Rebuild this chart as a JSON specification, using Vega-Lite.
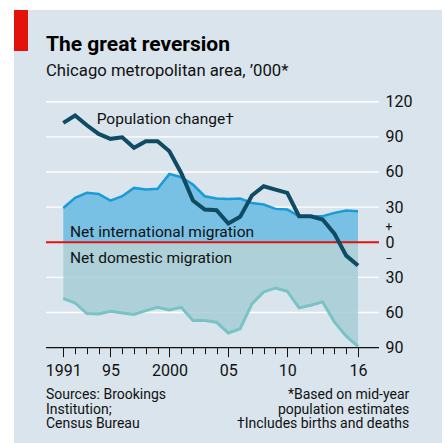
{
  "$schema": "https://vega.github.io/schema/vega-lite/v6.json",
  "width": 428,
  "height": 433,
  "autosize": {"type": "none"},
  "padding": {"left": 14, "top": 10, "right": 3, "bottom": 0},
  "background": "#ffffff",
  "config": {
    "view": {"fill": "#d9e4ec", "stroke": null},
    "font": "Roboto",
    "text": {"font": "Roboto", "color": "#111111"}
  },
  "title": {
    "text": "The great reversion",
    "subtitle": "Chicago metropolitan area, ’000*",
    "anchor": "start",
    "frame": "group",
    "offset": -70,
    "dx": 32,
    "font": "Roboto",
    "fontSize": 21,
    "fontWeight": "bold",
    "color": "#000000",
    "subtitleFont": "Roboto",
    "subtitleFontSize": 16.7,
    "subtitleColor": "#111111",
    "subtitlePadding": 8
  },
  "resolve": {"axis": {"x": "independent", "y": "independent"}},
  "datasets": {
    "series": [
      {"year": 1991, "pop": 101.9, "intl": 29.3, "dom": -48.0},
      {"year": 1992, "pop": 108.2, "intl": 37.9, "dom": -51.8},
      {"year": 1993, "pop": 99.9, "intl": 42.2, "dom": -60.9},
      {"year": 1994, "pop": 92.5, "intl": 41.3, "dom": -61.2},
      {"year": 1995, "pop": 88.3, "intl": 35.6, "dom": -58.9},
      {"year": 1996, "pop": 89.6, "intl": 39.3, "dom": -60.3},
      {"year": 1997, "pop": 80.6, "intl": 46.4, "dom": -61.7},
      {"year": 1998, "pop": 86.2, "intl": 45.0, "dom": -58.3},
      {"year": 1999, "pop": 86.2, "intl": 45.6, "dom": -55.5},
      {"year": 2000, "pop": 77.7, "intl": 58.4, "dom": -57.7},
      {"year": 2001, "pop": 59.2, "intl": 55.5, "dom": -55.5},
      {"year": 2002, "pop": 35.6, "intl": 49.3, "dom": -66.8},
      {"year": 2003, "pop": 27.9, "intl": 39.3, "dom": -66.8},
      {"year": 2004, "pop": 27.4, "intl": 37.3, "dom": -68.3},
      {"year": 2005, "pop": 16.0, "intl": 37.0, "dom": -77.4},
      {"year": 2006, "pop": 21.7, "intl": 37.3, "dom": -73.9},
      {"year": 2007, "pop": 39.9, "intl": 33.6, "dom": -52.6},
      {"year": 2008, "pop": 47.8, "intl": 32.2, "dom": -42.4},
      {"year": 2009, "pop": 45.0, "intl": 28.5, "dom": -39.0},
      {"year": 2010, "pop": 42.1, "intl": 27.9, "dom": -41.8},
      {"year": 2011, "pop": 22.2, "intl": 22.2, "dom": -56.0},
      {"year": 2012, "pop": 22.2, "intl": 22.2, "dom": -53.7},
      {"year": 2013, "pop": 19.4, "intl": 22.2, "dom": -50.9},
      {"year": 2014, "pop": 7.4, "intl": 25.1, "dom": -68.0},
      {"year": 2015, "pop": -11.4, "intl": 27.1, "dom": -80.2},
      {"year": 2016, "pop": -19.9, "intl": 26.5, "dom": -88.8}
    ],
    "grid": [{"v": 120}, {"v": 90}, {"v": 60}, {"v": 30}, {"v": -30}, {"v": -60}],
    "labels": [
      {"text": "Population change†", "year": 1993.83, "value": 100.9},
      {"text": "Net international migration", "year": 1991.57, "value": 4.2},
      {"text": "Net domestic migration", "year": 1991.57, "value": -17.4}
    ],
    "noteLeft": [{"text": "Sources: Brookings\nInstitution;\nCensus Bureau", "year": 1989.53, "value": -134.0}],
    "noteRight": [{"text": "*Based on mid-year\npopulation estimates\n†Includes births and deaths", "year": 2020.35, "value": -134.0}]
  },
  "layer": [
    {
      "data": {"name": "grid"},
      "mark": {"type": "rule", "color": "#ffffff", "strokeWidth": 1.4},
      "encoding": {
        "y": {"field": "v", "type": "quantitative", "axis": null},
        "x": {"datum": 1989.53, "type": "quantitative", "axis": null},
        "x2": {"datum": 2017.78}
      }
    },
    {
      "data": {"name": "series"},
      "mark": {"type": "area", "color": "#78c0e4", "opacity": 1},
      "encoding": {
        "x": {
          "field": "year", "type": "quantitative",
          "scale": {"domain": [1986.818, 2023.126], "nice": false, "zero": false},
          "axis": {
            "orient": "bottom", "offset": -95.3, "title": null, "domain": false, "grid": false,
            "values": [1991,1992,1993,1994,1995,1996,1997,1998,1999,2000,2001,2002,2003,2004,2005,2006,2007,2008,2009,2010,2011,2012,2013,2014,2015,2016],
            "ticks": true, "tickColor": "#111111", "tickWidth": 1, "tickSize": 6,
            "labels": false
          }
        },
        "y": {
          "field": "intl", "type": "quantitative",
          "scale": {"domain": [-171.36, 198.28], "nice": false, "zero": false},
          "axis": {
            "orient": "right", "offset": -57, "title": null, "domain": false, "grid": false, "ticks": false,
            "values": [120, 90, 60, 30, 0, -30, -60, -90],
            "labelExpr": "datum.value == 0 ? '0' : '' + abs(datum.value)",
            "labelAlign": "left", "labelBaseline": "middle", "labelPadding": 0,
            "labelFont": "Roboto", "labelFontSize": 16, "labelColor": "#111111",
            "labelOverlap": false, "labelFlush": false
          }
        },
        "y2": {"datum": 0}
      }
    },
    {
      "data": {"name": "series"},
      "mark": {"type": "area", "color": "#a6ced6", "opacity": 0.85},
      "encoding": {
        "x": {"field": "year", "type": "quantitative", "axis": null},
        "y": {
          "field": "dom", "type": "quantitative",
          "axis": {
            "orient": "right", "offset": -57, "title": null, "domain": false, "grid": false, "ticks": false,
            "values": [13.6, -14.0],
            "labelExpr": "datum.value > 0 ? '+' : '−'",
            "labelAlign": "left", "labelBaseline": "middle", "labelPadding": 0,
            "labelFont": "Roboto", "labelFontSize": 12, "labelColor": "#111111",
            "labelOverlap": false, "labelFlush": false
          }
        },
        "y2": {"datum": 0}
      }
    },
    {
      "data": {"values": [{}]},
      "mark": {"type": "rule", "color": "#e3120b", "strokeWidth": 2},
      "encoding": {
        "y": {"datum": 0, "type": "quantitative", "axis": null},
        "x": {"datum": 1989.53, "type": "quantitative", "axis": null},
        "x2": {"datum": 2017.78}
      }
    },
    {
      "data": {"values": [{}]},
      "mark": {"type": "rule", "color": "#111111", "strokeWidth": 1.3},
      "encoding": {
        "y": {"datum": -90, "type": "quantitative", "axis": null},
        "x": {"datum": 1989.53, "type": "quantitative", "axis": null},
        "x2": {"datum": 2017.78}
      }
    },
    {
      "data": {"name": "series"},
      "mark": {"type": "line", "color": "#1a9bd7", "strokeWidth": 2.5},
      "encoding": {
        "x": {
          "field": "year", "type": "quantitative",
          "axis": {
            "orient": "bottom", "offset": -95.3, "title": null, "domain": false, "grid": false,
            "values": [1991, 1995, 2000, 2005, 2010, 2016],
            "ticks": true, "tickColor": "#111111", "tickWidth": 1, "tickSize": 9,
            "labelExpr": "datum.value == 1991 || datum.value == 2000 ? '' + datum.value : substring('' + datum.value, 2)",
            "labelFont": "Roboto", "labelFontSize": 16, "labelColor": "#111111", "labelPadding": 6,
            "labelOverlap": false, "labelFlush": false
          }
        },
        "y": {"field": "intl", "type": "quantitative", "axis": null}
      }
    },
    {
      "data": {"name": "series"},
      "mark": {"type": "line", "color": "#79c3c4", "strokeWidth": 3},
      "encoding": {
        "x": {"field": "year", "type": "quantitative", "axis": null},
        "y": {"field": "dom", "type": "quantitative", "axis": null}
      }
    },
    {
      "data": {"name": "series"},
      "mark": {"type": "line", "color": "#0f4b63", "strokeWidth": 4, "strokeJoin": "miter"},
      "encoding": {
        "x": {"field": "year", "type": "quantitative", "axis": null},
        "y": {"field": "pop", "type": "quantitative", "axis": null}
      }
    },
    {
      "data": {"name": "labels"},
      "mark": {"type": "text", "align": "left", "baseline": "alphabetic", "fontSize": 15.5, "color": "#111111"},
      "encoding": {
        "x": {"field": "year", "type": "quantitative", "axis": null},
        "y": {"field": "value", "type": "quantitative", "axis": null},
        "text": {"field": "text", "type": "nominal"}
      }
    },
    {
      "data": {"name": "noteLeft"},
      "mark": {"type": "text", "align": "left", "baseline": "alphabetic", "fontSize": 14, "lineHeight": 14.5, "lineBreak": "\n", "color": "#111111"},
      "encoding": {
        "x": {"field": "year", "type": "quantitative", "axis": null},
        "y": {"field": "value", "type": "quantitative", "axis": null},
        "text": {"field": "text", "type": "nominal"}
      }
    },
    {
      "data": {"name": "noteRight"},
      "mark": {"type": "text", "align": "right", "baseline": "alphabetic", "fontSize": 14, "lineHeight": 14.5, "lineBreak": "\n", "color": "#111111"},
      "encoding": {
        "x": {"field": "year", "type": "quantitative", "axis": null},
        "y": {"field": "value", "type": "quantitative", "axis": null},
        "text": {"field": "text", "type": "nominal"}
      }
    },
    {
      "data": {"values": [{}]},
      "mark": {"type": "rect", "color": "#e3120b"},
      "encoding": {
        "x": {"datum": 1986.818, "type": "quantitative", "axis": null},
        "x2": {"datum": 1988.006},
        "y": {"datum": 198.28, "type": "quantitative", "axis": null},
        "y2": {"datum": 163.28}
      }
    }
  ]
}
